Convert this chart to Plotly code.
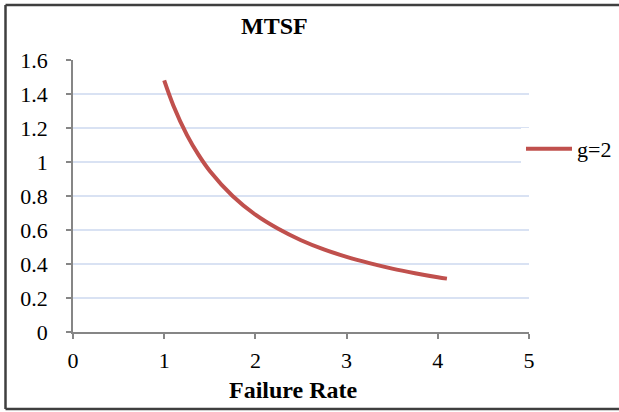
import plotly.graph_objects as go

# Data
failure_rate = [1.0, 1.1, 1.25, 1.375, 1.5, 1.75, 2.0, 2.25, 2.5, 2.75, 3.0, 3.25, 3.5, 3.75, 4.0, 4.1]
mtsf_g2 = [1.480, 1.333, 1.158, 1.043, 0.947, 0.800, 0.690, 0.607, 0.540, 0.486, 0.442, 0.405, 0.373, 0.346, 0.322, 0.314]
series_name = "g=2"

x_ticks = [0, 1, 2, 3, 4, 5]
x_tick_labels = ["0", "1", "2", "3", "4", "5"]
y_ticks = [0, 0.2, 0.4, 0.6, 0.8, 1.0, 1.2, 1.4, 1.6]
y_tick_labels = ["0", "0.2", "0.4", "0.6", "0.8", "1", "1.2", "1.4", "1.6"]

chart_title = "MTSF"
x_title = "Failure Rate"

FONT = "Liberation Serif"
W, H = 619, 412
ML, MR, MT, MB = 73, 90, 60, 80
PW, PH = W - ML - MR, H - MT - MB


def px_to_paper_x(px):
    return (px - ML) / PW


def px_to_paper_y(py):
    return (H - MB - py) / PH


fig = go.Figure()
fig.add_trace(go.Scatter(
    x=failure_rate, y=mtsf_g2, mode="lines", name=series_name,
    line=dict(color="#C0504D", width=4, shape="spline", smoothing=1.0),
))

axis_common = dict(
    showline=True, linecolor="#868686", linewidth=1.5,
    ticks="outside", ticklen=5, tickcolor="#868686", tickwidth=1.5,
    tickfont=dict(family=FONT, size=22, color="#000000"),
    zeroline=False, automargin=False,
)

fig.update_xaxes(
    range=[0, 5], tickvals=x_ticks, ticktext=x_tick_labels,
    showgrid=False, ticklabelstandoff=3, **axis_common,
)
fig.update_yaxes(
    range=[0, 1.6], tickvals=y_ticks, ticktext=y_tick_labels,
    showgrid=True, gridcolor="#D9E2F3", gridwidth=1.5,
    ticklabelstandoff=14, **axis_common,
)

border = dict(color="#3F3F3F", width=2.5)
bx0, by0, by1 = px_to_paper_x(5.5), px_to_paper_y(409), px_to_paper_y(5)
bx1 = px_to_paper_x(700)

fig.update_layout(
    width=W, height=H,
    margin=dict(l=ML, r=MR, t=MT, b=MB, pad=0, autoexpand=False),
    paper_bgcolor="white", plot_bgcolor="white",
    showlegend=True,
    legend=dict(
        x=px_to_paper_x(521), y=px_to_paper_y(149), xanchor="left", yanchor="middle",
        bgcolor="white", borderwidth=0, itemwidth=46,
        font=dict(family=FONT, size=22, color="#000000"),
        tracegroupgap=0,
    ),
    annotations=[
        dict(text="<b>%s</b>" % chart_title, xref="paper", yref="paper",
             x=px_to_paper_x(274.5), y=px_to_paper_y(26), xanchor="center", yanchor="middle",
             showarrow=False, font=dict(family=FONT, size=24, color="#000000")),
        dict(text="<b>%s</b>" % x_title, xref="paper", yref="paper",
             x=px_to_paper_x(293), y=px_to_paper_y(390), xanchor="center", yanchor="middle",
             showarrow=False, font=dict(family=FONT, size=24, color="#000000")),
    ],
    shapes=[
        dict(type="line", xref="paper", yref="paper", x0=bx0, x1=bx0, y0=by0, y1=by1, line=border),
        dict(type="line", xref="paper", yref="paper", x0=bx0, x1=bx1, y0=by1, y1=by1, line=border),
        dict(type="line", xref="paper", yref="paper", x0=bx0, x1=bx1, y0=by0, y1=by0, line=border),
    ],
)

fig.write_html("out.html")
